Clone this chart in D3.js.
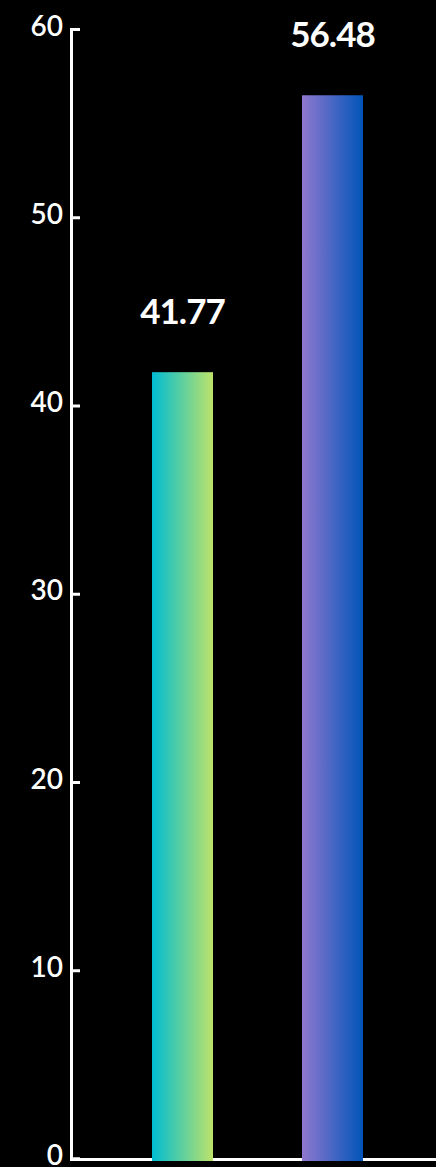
<!DOCTYPE html>
<html>
<head>
<meta charset="utf-8">
<script src="https://cdn.jsdelivr.net/npm/d3@7"></script>
<style>
  html, body { margin: 0; padding: 0; background: #000; }
  svg { display: block; }
</style>
</head>
<body>
<svg id="svgChart" width="436" height="1167"></svg>
<script>
// Chart data
let categories = ["A", "B"];
let values = [41.77, 56.48];
let tickValues = [0, 10, 20, 30, 40, 50, 60];
let gradientStops = [
  ["#00bcd2", "#bde36a"],
  ["#9078cf", "#0055b8"]
];

/*** Operations ***/

let width = 436;
let height = 1167;

let svg = d3.select("#svgChart");

// Gradients for the bars (left to right)
let defs = svg.append("defs");
gradientStops.forEach((stops, i) => {
  let grad = defs.append("linearGradient")
    .attr("id", `grad${i}`)
    .attr("x1", "0%").attr("x2", "100%")
    .attr("y1", "0%").attr("y2", "0%");
  grad.append("stop").attr("offset", "0%").attr("stop-color", stops[0]);
  grad.append("stop").attr("offset", "100%").attr("stop-color", stops[1]);
});

// Scales
let x = d3.scaleBand()
  .domain(categories)
  .range([71, 444])
  .paddingInner(0.5933)
  .paddingOuter(0.54);

let y = d3.scaleLinear()
  .domain([0, 60])
  .range([1158.5, 29]);

// Y axis
let yAxis = svg.append("g")
  .attr("transform", "translate(71, 0)")
  .call(
    d3.axisRight(y)
      .tickValues(tickValues)
      .tickSize(9)
      .tickSizeOuter(9)
      .tickFormat(d3.format("d"))
  );

yAxis.select(".domain")
  .attr("stroke", "#fff")
  .attr("stroke-width", 3);
yAxis.selectAll(".tick line")
  .attr("stroke", "#fff")
  .attr("stroke-width", 3);
yAxis.selectAll(".tick text")
  .attr("fill", "#fff")
  .attr("x", -8)
  .attr("dy", 6)
  .attr("text-anchor", "end")
  .style("font-family", "Lato, sans-serif")
  .style("font-weight", "600")
  .style("font-size", "28px");

// X baseline
svg.append("line")
  .attr("x1", 70)
  .attr("x2", width)
  .attr("y1", y(0) + 1)
  .attr("y2", y(0) + 1)
  .attr("stroke", "#fff")
  .attr("stroke-width", 3);

// Bars
svg.append("g")
  .selectAll("rect")
  .data(values)
  .join("rect")
    .attr("x", (d, i) => x(categories[i]))
    .attr("y", d => y(d))
    .attr("width", x.bandwidth())
    .attr("height", d => y(0) - y(d) + 2.5)
    .attr("fill", (d, i) => `url(#grad${i})`);

// Value labels
svg.append("g")
  .selectAll("text")
  .data(values)
  .join("text")
    .attr("x", (d, i) => x(categories[i]) + x.bandwidth() / 2)
    .attr("y", d => y(d) - 48)
    .attr("text-anchor", "middle")
    .attr("fill", "#fff")
    .style("font-family", "Lato, sans-serif")
    .style("font-weight", "bold")
    .style("font-size", "35px")
    .style("letter-spacing", "-1px")
    .text(d => d.toFixed(2));
</script>
</body>
</html>
